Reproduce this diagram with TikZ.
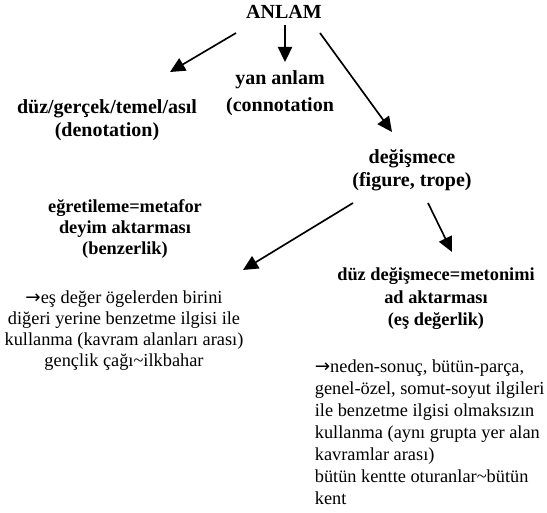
\documentclass[tikz,border=0pt]{standalone}
\usepackage{fontspec}
\setmainfont{Liberation Serif}
\newfontfamily\arrowfont{DejaVu Sans}
\newcommand{\ra}{{\arrowfont →}}
\usetikzlibrary{arrows.meta, calc}
\tikzset{
  every picture/.style={line width=1pt},
  head/.style={font=\fontsize{12}{13.8}\selectfont\bfseries, align=center, inner sep=0pt, anchor=base},
  subhead/.style={font=\fontsize{11}{13.5}\selectfont\bfseries, align=center, inner sep=0pt, anchor=base},
  expl/.style={font=\fontsize{11}{12.6}\selectfont, inner sep=0pt, anchor=base},
  arrow/.style={-{Triangle[length=9pt, width=8.5pt]}, draw=black, line width=1pt},
}
\begin{document}
\begin{tikzpicture}[x=0.6pt, y=-0.6pt]
  \useasboundingbox (0,0) rectangle (547,513);

  % meaning and its three kinds
  \node[head] (anlam) at (284,18.5) {ANLAM};
  \node[head] (duz) at (107,137) {düz/gerçek/temel/asıl\\(denotation)};
  \node[head] (yan) at (280,112) {yan anlam\\[2.4pt](connotation};
  \node[head] (deg) at (412,187) {değişmece\\(figure, trope)};

  % two kinds of figure
  \node[subhead, font=\fontsize{11}{12.6}\selectfont\bfseries] (egr) at (125,255) {eğretileme=metafor\\deyim aktarması\\(benzerlik)};
  \node[subhead] (met) at (436,326) {düz değişmece=metonimi\\ad aktarması\\(eş değerlik)};

  % explanations
  \node[expl, align=center] (egrnote) at (124,367) {\ra eş değer ögelerden birini\\diğeri yerine benzetme ilgisi ile\\kullanma (kavram alanları arası)\\gençlik çağı\textasciitilde{}ilkbahar};
  \node[expl, font=\fontsize{11}{13.2}\selectfont, align=left, anchor=base west] (metnote) at (314,505) {\ra neden-sonuç, bütün-parça,\\genel-özel, somut-soyut ilgileri\\ile benzetme ilgisi olmaksızın\\kullanma (aynı grupta yer alan\\kavramlar arası)\\bütün kentte oturanlar\textasciitilde{}bütün\\kent};

  \draw[arrow] ($(anlam.base)+(-48,14.5)$) -- ($(duz.base)+(63,-65)$);
  \draw[arrow] ($(anlam.base)+(1,6.5)$) -- ($(yan.base)+(5,-50)$);
  \draw[arrow] ($(anlam.base)+(36,14.5)$) -- ($(deg.base)+(-20,-55)$);
  \draw[arrow] ($(deg.base)+(-59,16)$) -- ($(egr.base)+(118,15)$);
  \draw[arrow] ($(deg.base)+(16,16)$) -- ($(met.base)+(16,-74)$);
\end{tikzpicture}
\end{document}
